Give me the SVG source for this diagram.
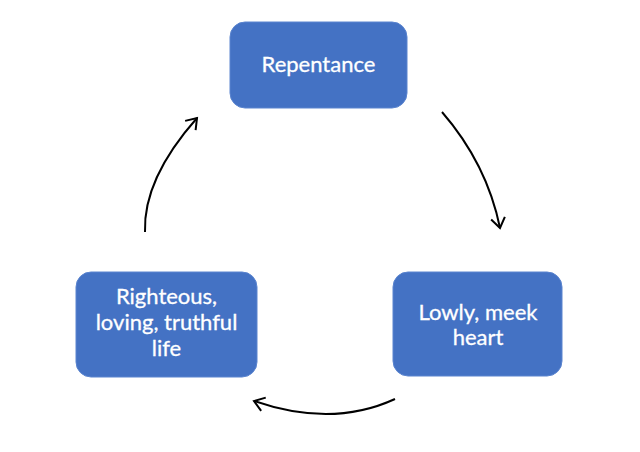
<svg xmlns="http://www.w3.org/2000/svg" width="640" height="452" viewBox="0 0 640 452">
<style>
.box{fill:#4472C4;stroke:#5a84cf;stroke-width:1}
.lbl{font-family:Lato,"Open Sans","Liberation Sans",sans-serif;font-size:22px;fill:#ffffff;text-anchor:middle;stroke:#ffffff;stroke-width:0.3}
.conn{fill:none;stroke:#000;stroke-width:2}
</style>
<defs>
<marker id="ah" markerUnits="userSpaceOnUse" markerWidth="24" markerHeight="24" refX="0" refY="0" viewBox="-12 -12 24 24" orient="auto" overflow="visible">
<path d="M-10,-7 L0,0 L-10,7" fill="none" stroke="#000" stroke-width="2" stroke-linejoin="miter"/>
</marker>
</defs>
<rect width="640" height="452" fill="#ffffff"/>
<g id="node-repentance">
<rect class="box" x="230" y="22" width="177" height="86" rx="15"/>
<text class="lbl" x="318.5" y="72">Repentance</text>
</g>
<g id="node-lowly">
<rect class="box" x="393" y="272" width="169" height="104" rx="15"/>
<text class="lbl" x="478" y="320">Lowly, meek</text>
<text class="lbl" x="478" y="345">heart</text>
</g>
<g id="node-righteous">
<rect class="box" x="76" y="272" width="181" height="105" rx="15"/>
<text class="lbl" x="166.5" y="304">Righteous,</text>
<text class="lbl" x="166.5" y="330">loving, truthful</text>
<text class="lbl" x="166.5" y="356">life</text>
</g>
<g id="connectors">
<path class="conn" d="M442,112 Q487,164 500,228" marker-end="url(#ah)"/>
<path class="conn" d="M395,399 Q332,428 254,401" marker-end="url(#ah)"/>
<path class="conn" d="M145,232 Q143,179 197,118" marker-end="url(#ah)"/>
</g>
</svg>
